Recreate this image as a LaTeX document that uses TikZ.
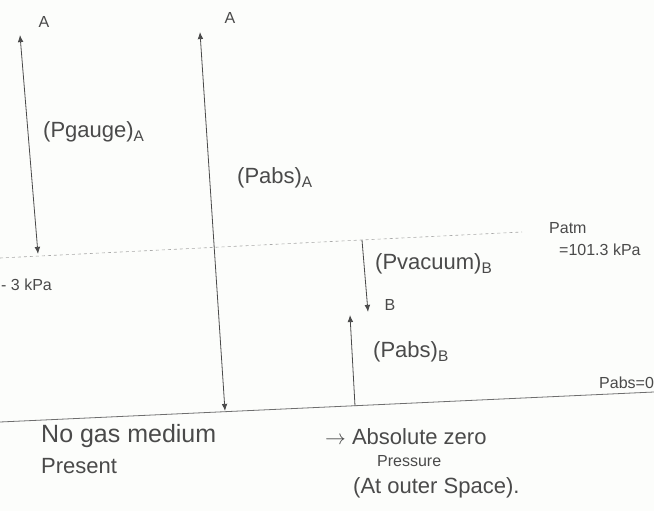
\documentclass[tikz,border=0pt]{standalone}
\usepackage{fontspec}
\setmainfont{Liberation Sans}
\usepackage{xcolor}
\usetikzlibrary{arrows.meta}
\definecolor{ink}{HTML}{4A4A4A}
\definecolor{inkgray}{HTML}{6E6E6E}
\definecolor{paper}{HTML}{FCFDFB}
\tikzset{
  scribble/.style={font=\fontsize{22}{24}\selectfont,text=ink,inner sep=1pt},
  bigscribble/.style={font=\fontsize{25}{28}\selectfont,text=ink,inner sep=1pt},
  smallscribble/.style={font=\fontsize{16}{18}\selectfont,text=ink,inner sep=1pt},
  bothwayarr/.style={{Latex[length=2.5mm,width=2mm]}-{Latex[length=2.5mm,width=2mm]},
                     line width=0.8pt,draw=ink},
  onewayarr/.style={-{Latex[length=2.5mm,width=2mm]},line width=0.8pt,draw=ink},
  zeroline/.style={line width=0.8pt,draw=inkgray},
  atmline/.style={dashed,line width=0.6pt,draw=inkgray!60}
}
\begin{document}
\begin{tikzpicture}[x=1pt,y=-1pt]
    \path[use as bounding box,fill=paper] (0,0) rectangle (654,511);
    % reference levels
    \coordinate (atmL) at (0,258);
    \coordinate (atmR) at (522,232);
    \coordinate (zeroL) at (0,422);
    \coordinate (zeroR) at (654,392);
    \draw[atmline] (atmL) -- (atmR);
    \draw[zeroline] (zeroL) -- (zeroR);
    % point A
    \coordinate (gaugeTop) at (20,35);
    \coordinate (gaugeBot) at (38,254);
    \coordinate (absATop) at (200,32);
    \coordinate (absABot) at (225,411);
    \draw[bothwayarr] (gaugeTop) -- (gaugeBot);
    \draw[bothwayarr] (absATop) -- (absABot);
    \node[smallscribble] (labAone) at (44,22) {A};
    \node[smallscribble] (labAtwo) at (230,18) {A};
    \node[scribble,anchor=west] (gaugeA) at (42,132) {(Pgauge)\textsubscript{A}};
    \node[scribble,anchor=west] (absA) at (236,178) {(Pabs)\textsubscript{A}};
    % point B
    \coordinate (vacTop) at (362,240);
    \coordinate (vacBot) at (368,312);
    \coordinate (absBTop) at (350,315);
    \coordinate (absBBot) at (355,406);
    \draw[onewayarr] (vacTop) -- (vacBot);
    \draw[onewayarr] (absBBot) -- (absBTop);
    \node[smallscribble] (labB) at (390,305) {B};
    \node[scribble,anchor=west] (vacB) at (374,264) {(Pvacuum)\textsubscript{B}};
    \node[scribble,anchor=west] (absB) at (372,352) {(Pabs)\textsubscript{B}};
    % level labels
    \node[smallscribble,anchor=west] (minusthree) at (0,285) {- 3 kPa};
    \node[smallscribble,anchor=west] (patm) at (548,228) {Patm};
    \node[smallscribble,anchor=west] (patmval) at (558,250) {=101.3 kPa};
    \node[smallscribble,anchor=south west] (pzero) at (598,390) {Pabs=0};
    % notes
    \node[bigscribble,anchor=west] (nogas) at (40,436) {No gas medium};
    \node[scribble,anchor=west] (present) at (40,466) {Present};
    \node[scribble,anchor=west] (abszero) at (324,437) {$\rightarrow$ Absolute zero};
    \node[smallscribble,anchor=west] (pressure) at (376,461) {Pressure};
    \node[scribble,anchor=west] (outer) at (352,488) {(At outer Space).};
\end{tikzpicture}
\end{document}
